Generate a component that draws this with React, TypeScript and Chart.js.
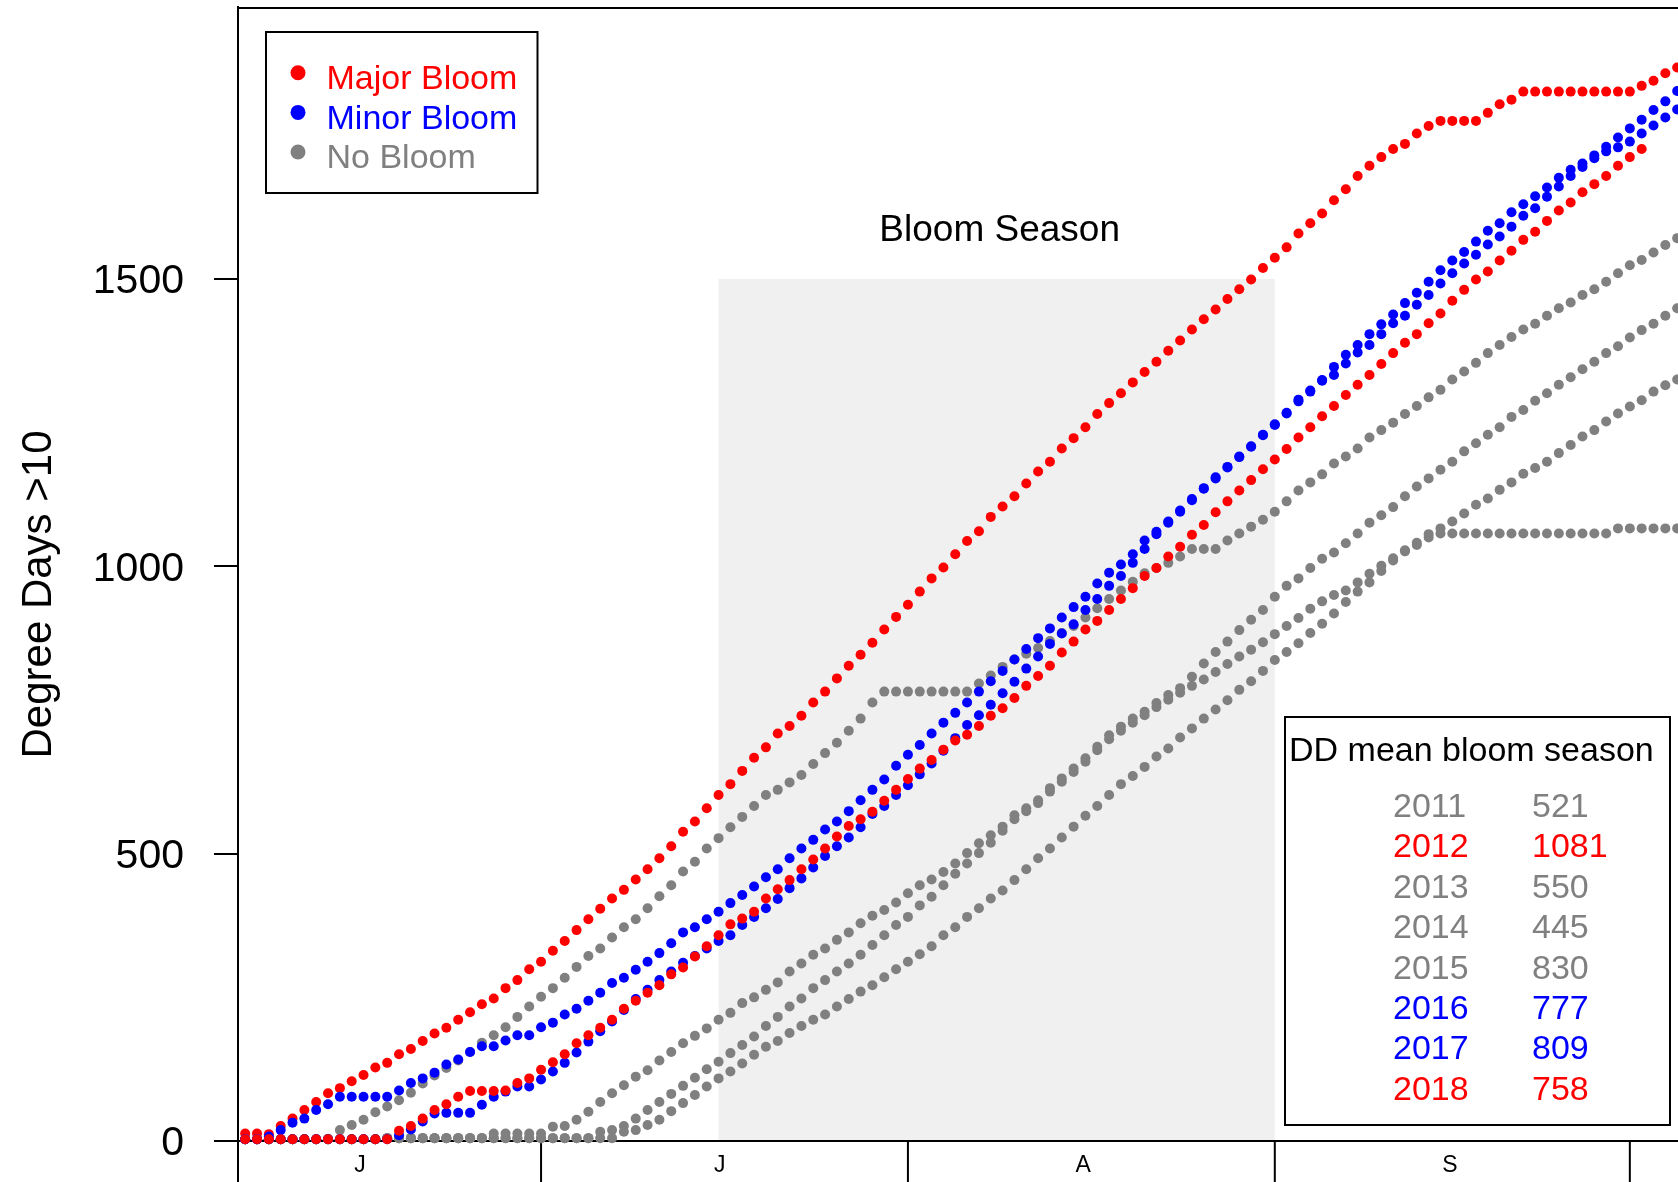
import React, { useEffect, useRef } from "react";
import { Chart, registerables } from "chart.js";

Chart.register(...registerables);

const FONT = '"Liberation Sans", Arial, Helvetica, sans-serif';

// Day index: 0 = 6 June ... 121 = 5 October (one reading per day)
const DAY_INDEX: number[] = Array.from({ length: 122 }, (_, i) => i);

// Month boundaries (1 Jul, 1 Aug, 1 Sep, 1 Oct) and month letters
const MONTH_START_DAYS = [25, 56, 87, 117];
const MONTH_LABELS = ["J", "J", "A", "S"];
const MONTH_LABEL_DAYS = [9.7, 40.1, 70.8, 101.8];

const Y_TICKS = [0, 500, 1000, 1500];
const Y_TITLE = "Degree Days >10";

// Bloom season: 16 Jul .. 1 Sep, drawn up to 1500 DD
const BLOOM_SEASON = [40, 87];
const BLOOM_SEASON_TOP = 1500;
const BLOOM_LABEL = "Bloom Season";
const BLOOM_LABEL_VALUE = 1584;

// Cumulative degree days (>10) per day
const DD_2011 = [
  3, 3, 3, 3, 3, 3, 3, 3, 3, 3,
  3, 3, 5, 5, 5, 5, 5, 5, 5, 5,
  5, 5, 5, 5, 5, 5, 5, 5, 5, 5,
  16, 19, 26, 39, 54, 68, 82, 96, 110, 125,
  138, 153, 167, 182, 200, 216, 234, 248, 266, 280,
  295, 309, 324, 341, 358, 376, 390, 410, 425, 445,
  465, 483, 501, 519, 540, 560, 574, 588, 608, 625,
  642, 660, 680, 699, 714, 728, 741, 755, 768, 780,
  792, 803, 816, 830, 843, 855, 868, 882, 896, 910,
  926, 939, 950, 958, 972, 987, 1001, 1014, 1028, 1041,
  1056, 1066, 1078, 1092, 1107, 1118, 1133, 1146, 1161, 1171,
  1182, 1197, 1211, 1226, 1237, 1252, 1266, 1278, 1289, 1304,
  1315, 1325,
];
const DD_2012 = [
  13, 13, 12, 26, 39, 54, 68, 83, 92, 104,
  115, 128, 136, 151, 160, 174, 187, 197, 211, 224,
  238, 248, 266, 280, 299, 312, 331, 348, 367, 386,
  404, 422, 437, 455, 473, 492, 513, 538, 556, 579,
  602, 621, 644, 667, 685, 709, 722, 740, 763, 782,
  805, 827, 846, 867, 890, 912, 933, 956, 979, 998,
  1021, 1044, 1061, 1086, 1104, 1122, 1144, 1165, 1182, 1205,
  1223, 1242, 1265, 1284, 1301, 1320, 1338, 1356, 1375, 1393,
  1412, 1430, 1447, 1465, 1482, 1499, 1519, 1537, 1555, 1579,
  1597, 1614, 1637, 1656, 1679, 1697, 1712, 1726, 1735, 1753,
  1766, 1775, 1775, 1775, 1775, 1789, 1804, 1812, 1826, 1826,
  1826, 1826, 1826, 1826, 1826, 1826, 1826, 1826, 1836, 1845,
  1858, 1868,
];
const DD_2013 = [
  3, 3, 3, 3, 3, 3, 3, 3, 3, 3,
  3, 3, 5, 5, 5, 5, 5, 5, 5, 5,
  5, 13, 13, 13, 13, 13, 25, 26, 37, 51,
  68, 83, 97, 112, 123, 140, 155, 170, 183, 196,
  211, 223, 240, 250, 263, 276, 295, 309, 324, 335,
  350, 363, 379, 392, 402, 415, 431, 445, 455, 468,
  483, 501, 518, 532, 547, 567, 579, 593, 614, 631,
  648, 666, 686, 706, 721, 735, 747, 762, 776, 788,
  808, 831, 851, 869, 889, 907, 924, 947, 966, 979,
  997, 1013, 1024, 1040, 1057, 1076, 1089, 1103, 1122, 1139,
  1153, 1168, 1182, 1200, 1214, 1229, 1242, 1260, 1272, 1288,
  1301, 1316, 1329, 1343, 1356, 1371, 1383, 1398, 1411, 1422,
  1436, 1449,
];
const DD_2014 = [
  3, 3, 3, 3, 3, 3, 3, 3, 3, 3,
  3, 3, 5, 5, 5, 5, 5, 5, 5, 5,
  5, 5, 5, 5, 5, 5, 5, 5, 5, 5,
  5, 5, 16, 19, 28, 37, 52, 66, 80, 95,
  109, 121, 135, 150, 164, 174, 188, 200, 211, 220,
  234, 247, 260, 271, 285, 299, 312, 325, 339, 358,
  372, 390, 405, 422, 436, 454, 473, 492, 509, 528,
  547, 566, 583, 602, 621, 635, 651, 669, 683, 702,
  718, 735, 751, 767, 785, 800, 818, 837, 851, 866,
  884, 900, 918, 938, 956, 972, 992, 1010, 1026, 1037,
  1050, 1057, 1057, 1057, 1057, 1057, 1057, 1057, 1057, 1057,
  1057, 1057, 1057, 1057, 1057, 1057, 1066, 1066, 1066, 1066,
  1066, 1066,
];
const DD_2015 = [
  3, 3, 3, 3, 3, 3, 3, 4, 19, 28,
  37, 50, 60, 71, 84, 100, 114, 127, 140, 155,
  171, 184, 198, 216, 234, 251, 266, 284, 303, 322,
  335, 354, 372, 386, 405, 426, 445, 469, 486, 509,
  527, 546, 564, 583, 602, 611, 624, 637, 656, 675,
  693, 714, 735, 763, 782, 782, 782, 782, 782, 782,
  782, 782, 796, 810, 825, 838, 848, 858, 870, 884,
  896, 911, 927, 943, 958, 973, 988, 997, 1006, 1017,
  1030, 1030, 1030, 1045, 1057, 1069, 1081, 1095, 1113, 1132,
  1146, 1160, 1179, 1191, 1205, 1224, 1237, 1250, 1265, 1279,
  1294, 1307, 1325, 1339, 1354, 1371, 1385, 1399, 1412, 1422,
  1436, 1449, 1459, 1472, 1482, 1495, 1510, 1524, 1533, 1546,
  1559, 1571,
];
const DD_2016 = [
  3, 3, 3, 3, 3, 3, 3, 3, 3, 3,
  3, 3, 3, 10, 20, 34, 48, 49, 49, 49,
  63, 77, 86, 95, 95, 107, 121, 136, 154, 173,
  191, 208, 228, 247, 263, 280, 295, 310, 322, 335,
  348, 358, 376, 390, 405, 421, 440, 457, 476, 496,
  513, 528, 546, 569, 583, 602, 619, 638, 657, 679,
  701, 724, 741, 759, 779, 799, 822, 843, 865, 883,
  899, 924, 943, 966, 983, 1006, 1030, 1056, 1076, 1095,
  1115, 1135, 1153, 1172, 1190, 1208, 1228, 1246, 1266, 1287,
  1304, 1323, 1333, 1353, 1372, 1385, 1404, 1423, 1436, 1455,
  1472, 1492, 1510, 1527, 1542, 1560, 1574, 1591, 1610, 1623,
  1643, 1661, 1679, 1695, 1710, 1722, 1729, 1739, 1753, 1767,
  1781, 1795,
];
const DD_2017 = [
  3, 3, 8, 19, 32, 39, 54, 64, 77, 77,
  77, 77, 77, 88, 101, 109, 119, 133, 142, 155,
  165, 165, 175, 184, 184, 198, 206, 220, 230, 244,
  258, 275, 284, 298, 312, 327, 344, 363, 372, 386,
  399, 414, 428, 443, 459, 473, 492, 509, 524, 542,
  556, 574, 593, 611, 629, 653, 672, 689, 709, 728,
  745, 763, 782, 800, 818, 838, 856, 875, 892, 911,
  929, 947, 970, 989, 1003, 1021, 1045, 1060, 1078, 1097,
  1117, 1136, 1155, 1173, 1191, 1209, 1229, 1247, 1267, 1290,
  1306, 1324, 1347, 1368, 1385, 1404, 1421, 1438, 1458, 1476,
  1495, 1515, 1532, 1547, 1565, 1584, 1597, 1616, 1630, 1644,
  1659, 1676, 1690, 1701, 1715, 1730, 1746, 1762, 1777, 1794,
  1809, 1827,
];
const DD_2018: (number | null)[] = [
  3, 3, 3, 3, 3, 3, 3, 3, 3, 3,
  3, 3, 3, 18, 26, 39, 54, 64, 77, 87,
  87, 87, 88, 101, 109, 124, 137, 151, 170, 184,
  197, 211, 230, 244, 258, 271, 290, 302, 321, 339,
  358, 377, 387, 399, 422, 438, 454, 473, 490, 509,
  530, 548, 560, 573, 592, 611, 630, 648, 663, 681,
  697, 707, 722, 740, 753, 771, 792, 809, 827, 850,
  869, 890, 905, 924, 943, 962, 983, 997, 1017, 1034,
  1055, 1072, 1094, 1113, 1132, 1150, 1169, 1186, 1204, 1224,
  1242, 1261, 1279, 1298, 1316, 1333, 1352, 1371, 1389, 1404,
  1423, 1440, 1462, 1481, 1499, 1513, 1532, 1549, 1568, 1582,
  1601, 1619, 1633, 1651, 1665, 1679, 1697, 1712, 1726, null,
  null, null,
];

const SERIES_YEARS = ["2011", "2012", "2013", "2014", "2015", "2016", "2017", "2018"];
const SERIES_VALUES = [DD_2011, DD_2012, DD_2013, DD_2014, DD_2015, DD_2016, DD_2017, DD_2018];
const SERIES_CLASS = ["No Bloom", "Major Bloom", "No Bloom", "No Bloom", "No Bloom", "Minor Bloom", "Minor Bloom", "Major Bloom"];

// Mean DD over the bloom season, per year
const MEAN_BLOOM_SEASON = [521, 1081, 550, 445, 830, 777, 809, 758];

const CLASS_NAMES = ["Major Bloom", "Minor Bloom", "No Bloom"];
const CLASS_COLORS: Record<string, string> = {
  "Major Bloom": "#FF0000",
  "Minor Bloom": "#0000FF",
  "No Bloom": "#808080",
};
const MEAN_TITLE = "DD mean bloom season";

// Canvas / plot geometry
const W = 1678;
const H = 1182;
const AXIS_WIDTH = 237.5;
const PLOT_TOP = 7;
const X_MIN = -0.65;
const X_MAX = 121.07;
const Y_MIN = -71.3;
const Y_MAX = 1973.2;

const decorPlugin = {
  id: "decor",
  beforeDatasetsDraw(chart: any) {
    const { ctx, chartArea, scales } = chart;
    const x = scales.x;
    const y = scales.y;
    ctx.save();
    const l = x.getPixelForValue(BLOOM_SEASON[0]);
    const r = x.getPixelForValue(BLOOM_SEASON[1]);
    const t = y.getPixelForValue(BLOOM_SEASON_TOP);
    const b = y.getPixelForValue(0);
    ctx.fillStyle = "#F0F0F0";
    ctx.fillRect(l, t, r - l, b - t);

    ctx.strokeStyle = "#000";
    ctx.lineWidth = 2;
    ctx.beginPath();
    ctx.moveTo(chartArea.left, b);
    ctx.lineTo(chartArea.right, b);
    ctx.stroke();

    MONTH_START_DAYS.forEach((d) => {
      const px = x.getPixelForValue(d);
      ctx.beginPath();
      ctx.moveTo(px, b);
      ctx.lineTo(px, chart.height);
      ctx.stroke();
    });

    ctx.fillStyle = "#000";
    ctx.font = `23px ${FONT}`;
    ctx.textAlign = "center";
    ctx.textBaseline = "middle";
    MONTH_LABELS.forEach((m, i) => {
      ctx.fillText(m, x.getPixelForValue(MONTH_LABEL_DAYS[i]), b + 25);
    });
    ctx.restore();
  },
  afterDatasetsDraw(chart: any) {
    const { ctx, chartArea, scales } = chart;
    const x = scales.x;
    const y = scales.y;
    ctx.save();
    // top frame line
    ctx.strokeStyle = "#000";
    ctx.lineWidth = 2;
    ctx.beginPath();
    ctx.moveTo(chartArea.left, chartArea.top + 1);
    ctx.lineTo(chartArea.right, chartArea.top + 1);
    ctx.stroke();

    // Bloom season label
    ctx.fillStyle = "#000";
    ctx.font = `37px ${FONT}`;
    ctx.textAlign = "center";
    ctx.textBaseline = "middle";
    ctx.fillText(
      BLOOM_LABEL,
      x.getPixelForValue((BLOOM_SEASON[0] + BLOOM_SEASON[1]) / 2) + 3,
      y.getPixelForValue(BLOOM_LABEL_VALUE)
    );

    // Class legend (top-left)
    ctx.fillStyle = "#fff";
    ctx.fillRect(266, 32, 271.5, 161);
    ctx.strokeStyle = "#000";
    ctx.lineWidth = 2;
    ctx.strokeRect(266, 32, 271.5, 161);
    ctx.font = `34px ${FONT}`;
    ctx.textAlign = "left";
    ctx.textBaseline = "middle";
    CLASS_NAMES.forEach((name, i) => {
      const cy = 75.8 + i * 39.6;
      ctx.fillStyle = CLASS_COLORS[name];
      ctx.beginPath();
      ctx.arc(298, cy - 3, 7.5, 0, Math.PI * 2);
      ctx.fill();
      ctx.fillText(name, 326.5, cy + 4);
    });

    // Mean DD legend (bottom-right)
    ctx.fillStyle = "#fff";
    ctx.fillRect(1285, 717, 385, 408);
    ctx.strokeStyle = "#000";
    ctx.lineWidth = 2;
    ctx.strokeRect(1285, 717, 385, 408);
    ctx.fillStyle = "#000";
    ctx.font = `34px ${FONT}`;
    ctx.textAlign = "left";
    ctx.textBaseline = "middle";
    ctx.fillText(MEAN_TITLE, 1289, 751.8);
    SERIES_YEARS.forEach((yr, i) => {
      const cy = 807.3 + i * 40.47;
      ctx.fillStyle = CLASS_COLORS[SERIES_CLASS[i]];
      ctx.fillText(yr, 1393, cy);
      ctx.fillText(String(MEAN_BLOOM_SEASON[i]), 1532, cy);
    });
    ctx.restore();
  },
};

export default function App() {
  const ref = useRef<HTMLCanvasElement | null>(null);
  useEffect(() => {
    document.body.style.margin = "0";
    const canvas = ref.current;
    if (!canvas) return;
    const datasets = SERIES_YEARS.map((yr, i) => {
      const color = CLASS_COLORS[SERIES_CLASS[i]];
      const vals = SERIES_VALUES[i] as (number | null)[];
      return {
        label: yr,
        data: DAY_INDEX.map((d, j) => ({ x: d, y: vals[j] })).filter((p) => p.y !== null && p.y !== undefined),
        backgroundColor: color,
        borderColor: color,
        pointBackgroundColor: color,
        pointBorderWidth: 0,
        pointRadius: 5,
        pointHoverRadius: 5,
        showLine: false,
        order: 8 - i,
      };
    });
    const chart = new Chart(canvas, {
      type: "scatter",
      data: { datasets } as any,
      options: {
        responsive: false,
        animation: false,
        devicePixelRatio: 1,
        events: [],
        layout: { autoPadding: false, padding: { top: PLOT_TOP, left: 0, right: 0, bottom: 0 } },
        plugins: { legend: { display: false }, tooltip: { enabled: false } },
        scales: {
          x: { type: "linear", min: X_MIN, max: X_MAX, display: false },
          y: {
            type: "linear",
            position: "left",
            min: Y_MIN,
            max: Y_MAX,
            afterBuildTicks: (s: any) => {
              s.ticks = Y_TICKS.map((v) => ({ value: v }));
            },
            afterFit: (s: any) => {
              s.width = AXIS_WIDTH;
              s.paddingTop = 0;
              s.paddingBottom = 0;
            },
            grid: {
              drawOnChartArea: false,
              drawTicks: true,
              tickLength: 23.5,
              tickWidth: 2,
              tickColor: "#000",
              color: "#000",
              lineWidth: 2,
            },
            border: { display: true, color: "#000", width: 2 },
            ticks: {
              color: "#000",
              padding: 30,
              labelOffset: 3,
              autoSkip: false,
              font: { family: FONT, size: 41 },
              callback: (v: any) => String(v),
            },
            title: {
              display: true,
              text: Y_TITLE,
              color: "#000",
              font: { family: FONT, size: 42 },
              padding: { top: 14, bottom: 0 },
            },
          },
        },
      } as any,
      plugins: [decorPlugin],
    });
    return () => chart.destroy();
  }, []);
  return (
    <div style={{ position: "absolute", left: 0, top: 0, width: W, height: H, overflow: "hidden", background: "#fff" }}>
      <canvas ref={ref} width={W} height={H} style={{ display: "block", width: W, height: H }} />
    </div>
  );
}
